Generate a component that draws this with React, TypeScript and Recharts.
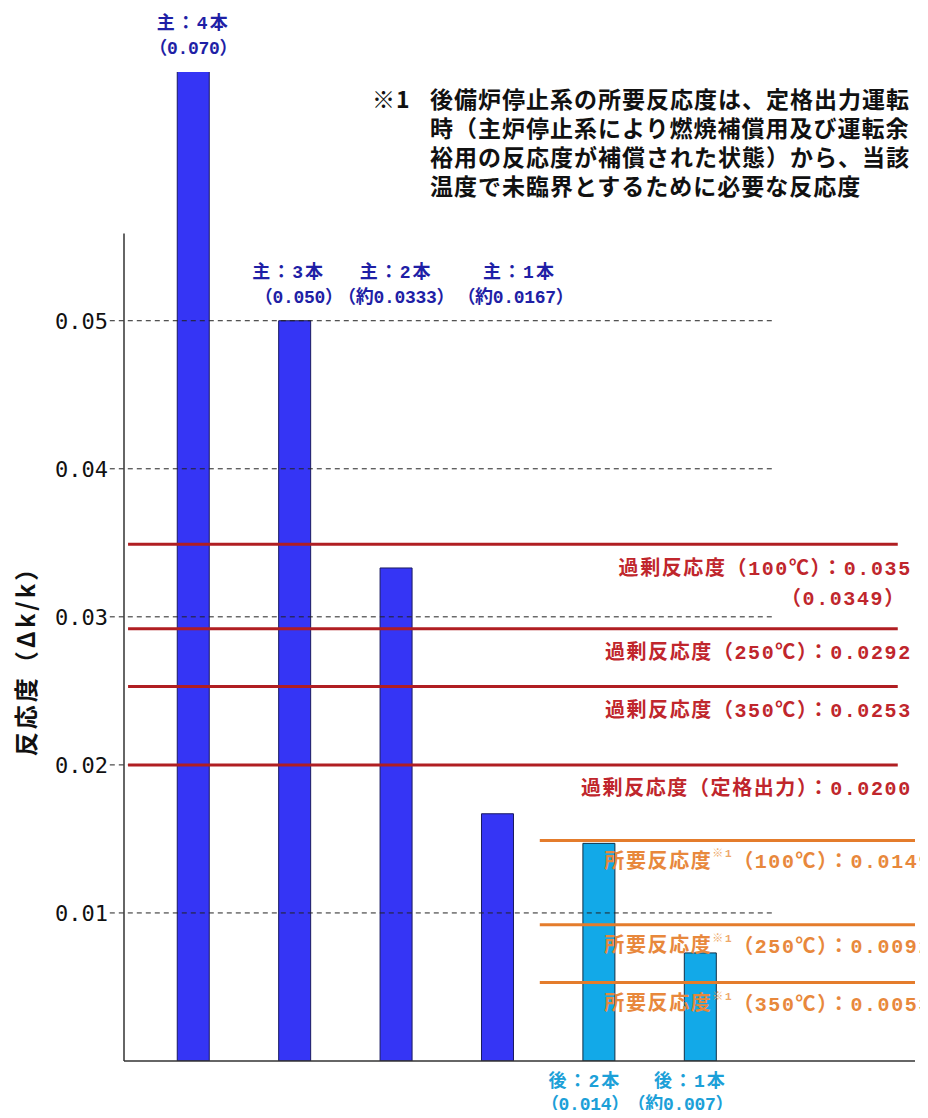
import React from 'react'
import { BarChart, Bar, XAxis, YAxis, Cell, LabelList, ReferenceLine } from 'recharts'

// bars: shutdown rods inserted
const categories = ['主：4本', '主：3本', '主：2本', '主：1本', '後：2本', '後：1本']
const barNotes = ['（0.070）', '（0.050）', '（約0.0333）', '（約0.0167）', '（0.014）', '（約0.007）']
const barValues = [0.07, 0.05, 0.0333, 0.0167, 0.0147, 0.0073]
const barGroups = ['main', 'main', 'main', 'main', 'backup', 'backup']

const yTicks = [0.01, 0.02, 0.03, 0.04, 0.05]

// excess reactivity (red)
const excessNames = [
  '過剰反応度（100℃）：0.035',
  '過剰反応度（250℃）：0.0292',
  '過剰反応度（350℃）：0.0253',
  '過剰反応度（定格出力）：0.0200',
]
const excessNotes = ['（0.0349）', '', '', '']
const excessValues = [0.0349, 0.0292, 0.0253, 0.02]

// required reactivity (orange)
const requiredTemps = ['100℃', '250℃', '350℃']
const requiredValues = [0.0149, 0.0092, 0.0053]

const noteMark = '※1'
const noteLines = [
  '後備炉停止系の所要反応度は、定格出力運転',
  '時（主炉停止系により燃焼補償用及び運転余',
  '裕用の反応度が補償された状態）から、当該',
  '温度で未臨界とするために必要な反応度',
]
const yLabel = '反応度（Δk/k）'

const W = 928
const H = 1118
const PLOT_TOP = 72
const Y_MAX = 0.0668
const LABEL_FLOOR = 0.05

// small nudges so the crowded bar tags don't collide (px)
const nameShift = [0, -6, 0, 22, -14, -10]
const noteShift = [0, 4, 0, 18, -14, -20]

const MIX_FONT = "'Liberation Mono', 'Noto Sans CJK JP', sans-serif"
const JP_FONT = "'Noto Sans CJK JP', sans-serif"

const C = {
  main: '#3535f5',
  mainEdge: '#1a1a60',
  backup: '#12a9e8',
  backupEdge: '#0f2f46',
  mainText: '#1f1fa6',
  backupText: '#1ca0d8',
  excess: '#b01e22',
  excessText: '#c0262c',
  required: '#e47c2c',
  requiredText: '#e8883c',
  grid: '#222',
}

const data = categories.map((name, i) => ({ pos: i + 1, name, value: barValues[i] }))

const nameStyle = { fontFamily: MIX_FONT, fontWeight: 700, fontSize: 18, letterSpacing: 2 }
const noteStyle = { fontFamily: MIX_FONT, fontWeight: 700, fontSize: 18, letterSpacing: -0.3 }

function BarTag(props: any) {
  const vb = props.viewBox ?? props
  const i = categories.indexOf(props.value)
  if (i < 0 || !vb) return null
  const { x, y, width, height } = vb
  const cx = x + width / 2
  const base = y + height
  const main = barGroups[i] === 'main'
  const fill = main ? C.mainText : C.backupText
  let y1 = base + 21
  let y2 = base + 44
  if (main) {
    const perUnit = height / barValues[i]
    const top = Math.min(Math.max(y, PLOT_TOP), base - LABEL_FLOOR * perUnit)
    y1 = top - 48
    y2 = top - 23
  }
  return (
    <g>
      <text x={cx + nameShift[i]} y={y1} textAnchor="middle" dominantBaseline="central" fill={fill} style={nameStyle}>
        {categories[i]}
      </text>
      <text x={cx + noteShift[i]} y={y2} textAnchor="middle" dominantBaseline="central" fill={fill} style={noteStyle}>
        {barNotes[i]}
      </text>
    </g>
  )
}

const lineTextStyle = { fontFamily: MIX_FONT, fontWeight: 700, fontSize: 20, letterSpacing: 1.6 }

function ExcessTag({ viewBox, i }: any) {
  if (!viewBox) return null
  const right = viewBox.x + viewBox.width + 14
  const y = viewBox.y + 25
  return (
    <g>
      <text x={right} y={y} textAnchor="end" dominantBaseline="central" fill={C.excessText} style={lineTextStyle}>
        {excessNames[i]}
      </text>
      {excessNotes[i] ? (
        <text x={right - 6} y={y + 30} textAnchor="end" dominantBaseline="central" fill={C.excessText} style={lineTextStyle}>
          {excessNotes[i]}
        </text>
      ) : null}
    </g>
  )
}

function RequiredTag({ viewBox, i }: any) {
  if (!viewBox) return null
  const right = viewBox.x + viewBox.width + 17
  const y = viewBox.y + 22
  return (
    <text x={right} y={y} textAnchor="end" dominantBaseline="central" fill={C.requiredText} style={lineTextStyle}>
      所要反応度
      <tspan fontSize={11} dy={-8} fill="#eea868">{noteMark}</tspan>
      <tspan dy={8}>{`（${requiredTemps[i]}）：${requiredValues[i].toFixed(4)}`}</tspan>
    </text>
  )
}

export default function App() {
  return (
    <div style={{ position: 'relative', width: W, height: H, margin: -8, background: '#fff' }}>
      <BarChart width={W} height={H} data={data} margin={{ top: PLOT_TOP, right: 13, bottom: 27, left: 0 }}>
        <XAxis
          type="number"
          dataKey="pos"
          domain={[0.32, 8.12]}
          allowDataOverflow
          tick={false}
          tickLine={false}
          height={30}
          axisLine={{ stroke: '#333', strokeWidth: 1.5 }}
        />
        <YAxis
          type="number"
          domain={[0, Y_MAX]}
          allowDataOverflow
          ticks={yTicks}
          width={124}
          axisLine={false}
          tickLine={false}
          tickSize={0}
          tickMargin={16}
          tick={{ fill: '#111', fontSize: 22, fontFamily: "'DejaVu Sans Mono', monospace" }}
          tickFormatter={(v: number) => v.toFixed(2)}
        />
        {yTicks.map((t) => (
          <ReferenceLine
            key={`g${t}`}
            segment={[{ x: 0.18, y: t }, { x: 6.72, y: t }]}
            stroke={C.grid}
            strokeDasharray="5 4"
            strokeWidth={1}
            ifOverflow="visible"
          />
        ))}
        <ReferenceLine
          segment={[{ x: 0.32, y: 0 }, { x: 0.32, y: 0.0559 }]}
          stroke="#333"
          strokeWidth={1.5}
          ifOverflow="visible"
        />
        <Bar dataKey="value" barSize={32} isAnimationActive={false} strokeWidth={1}>
          {data.map((d, i) => (
            <Cell
              key={d.name}
              fill={barGroups[i] === 'main' ? C.main : C.backup}
              stroke={barGroups[i] === 'main' ? C.mainEdge : C.backupEdge}
            />
          ))}
          <LabelList dataKey="name" content={BarTag} />
        </Bar>
        {excessValues.map((v, i) => (
          <ReferenceLine
            key={`e${v}`}
            segment={[{ x: 0.36, y: v }, { x: 7.95, y: v }]}
            stroke={C.excess}
            strokeWidth={3}
            ifOverflow="visible"
            label={<ExcessTag i={i} />}
          />
        ))}
        {requiredValues.map((v, i) => (
          <ReferenceLine
            key={`r${v}`}
            segment={[{ x: 4.42, y: v }, { x: 8.12, y: v }]}
            stroke={C.required}
            strokeWidth={3}
            ifOverflow="visible"
            label={<RequiredTag i={i} />}
          />
        ))}
      </BarChart>

      <div
        style={{
          position: 'absolute',
          left: 372,
          top: 84,
          display: 'flex',
          fontFamily: JP_FONT,
          fontWeight: 700,
          fontSize: 23,
          lineHeight: '29px',
          color: '#111',
          letterSpacing: 1,
          whiteSpace: 'nowrap',
        }}
      >
        <div style={{ width: 58 }}>{noteMark}</div>
        <div>
          {noteLines.map((l) => (
            <div key={l}>{l}</div>
          ))}
        </div>
      </div>

      <div
        style={{
          position: 'absolute',
          left: 24,
          top: 655,
          transform: 'translate(-50%, -50%) rotate(-90deg)',
          fontFamily: JP_FONT,
          fontWeight: 700,
          fontSize: 24,
          letterSpacing: 3,
          color: '#111',
          whiteSpace: 'nowrap',
        }}
      >
        {yLabel}
      </div>
    </div>
  )
}
